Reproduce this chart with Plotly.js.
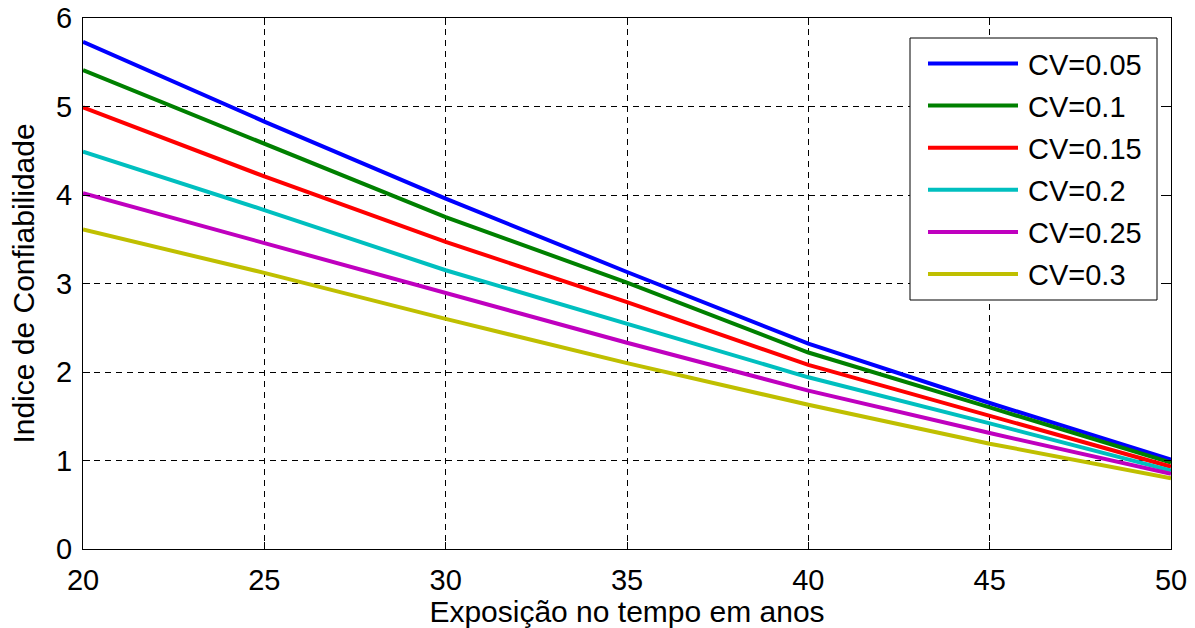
<!DOCTYPE html>
<html>
<head>
<meta charset="utf-8">
<script src="https://cdn.plot.ly/plotly-3.0.1.min.js"></script>
<style>html,body{margin:0;padding:0;background:#fff;}#chart{width:1195px;height:628px;}</style>
</head>
<body>
<div id="chart"></div>
<script>
// Data
const years = [20, 25, 30, 35, 40, 45, 50];
const seriesNames = ["CV=0.05", "CV=0.1", "CV=0.15", "CV=0.2", "CV=0.25", "CV=0.3"];
const cv005 = [5.73, 4.83, 3.96, 3.13, 2.32, 1.65, 1.01];
const cv010 = [5.41, 4.58, 3.75, 3.01, 2.22, 1.60, 0.975];
const cv015 = [4.99, 4.21, 3.47, 2.79, 2.08, 1.51, 0.93];
const cv020 = [4.49, 3.83, 3.15, 2.55, 1.94, 1.42, 0.885];
const cv025 = [4.02, 3.46, 2.89, 2.33, 1.79, 1.31, 0.85];
const cv030 = [3.61, 3.12, 2.60, 2.10, 1.63, 1.19, 0.80];
const seriesValues = [cv005, cv010, cv015, cv020, cv025, cv030];
const colors = ["#0000FF", "#008000", "#FF0000", "#00BFBF", "#BF00BF", "#BFBF00"];
const xTitle = "Exposição no tempo em anos";
const yTitle = "Indice de Confiabilidade";

const FONT = "Liberation Sans, Arial, Helvetica, sans-serif";
const W = 1195, H = 628;
const L = 83, R = 1171, T = 18, B = 549;

const traces = seriesValues.map((v, i) => ({
  x: years, y: v, type: "scatter", mode: "lines", name: seriesNames[i],
  line: {color: colors[i], width: 4}, showlegend: false
}));

// custom MATLAB-style legend (paper coords computed from pixel layout)
const px2x = p => (p - L) / (R - L);
const px2y = p => (B - p) / (B - T);
const shapes = [{
  type: "rect", xref: "paper", yref: "paper",
  x0: px2x(910), x1: px2x(1157), y0: px2y(300), y1: px2y(38),
  fillcolor: "#FFFFFF", line: {color: "#000000", width: 1}, layer: "above"
}];
const annotations = [];
seriesNames.forEach((n, i) => {
  const yc = 63.5 + i * 42.1;
  shapes.push({type: "line", xref: "paper", yref: "paper",
    x0: px2x(928), x1: px2x(1018), y0: px2y(yc), y1: px2y(yc),
    line: {color: colors[i], width: 4}, layer: "above"});
  annotations.push({xref: "paper", yref: "paper", x: px2x(1026), y: px2y(yc + 1),
    xanchor: "left", yanchor: "middle", text: n, showarrow: false,
    font: {family: FONT, size: 29, color: "#000"}});
});

const axisCommon = {
  showline: true, linecolor: "#000", linewidth: 1, mirror: "allticks",
  ticks: "inside", ticklen: 7, tickcolor: "#000", tickwidth: 1,
  showgrid: true, gridcolor: "#000", gridwidth: 1, griddash: "6px,5px",
  zeroline: false, tickfont: {family: FONT, size: 29, color: "#000"},
  automargin: false
};

const layout = {
  width: W, height: H,
  margin: {l: L, r: W - R, t: T, b: H - B, pad: 0},
  paper_bgcolor: "#fff", plot_bgcolor: "#fff",
  font: {family: FONT, color: "#000"},
  xaxis: Object.assign({}, axisCommon, {
    range: [20, 50], dtick: 5, tick0: 20, ticklabelstandoff: 5,
    title: {text: xTitle, font: {family: FONT, size: 30, color: "#000"}, standoff: 8}
  }),
  yaxis: Object.assign({}, axisCommon, {
    range: [0, 6], dtick: 1, tick0: 0, ticklabelstandoff: 4,
    title: {text: yTitle, font: {family: FONT, size: 30, color: "#000"}, standoff: 12}
  }),
  shapes: shapes, annotations: annotations, showlegend: false
};

Plotly.newPlot("chart", traces, layout, {displayModeBar: false, staticPlot: true});
</script>
</body>
</html>
